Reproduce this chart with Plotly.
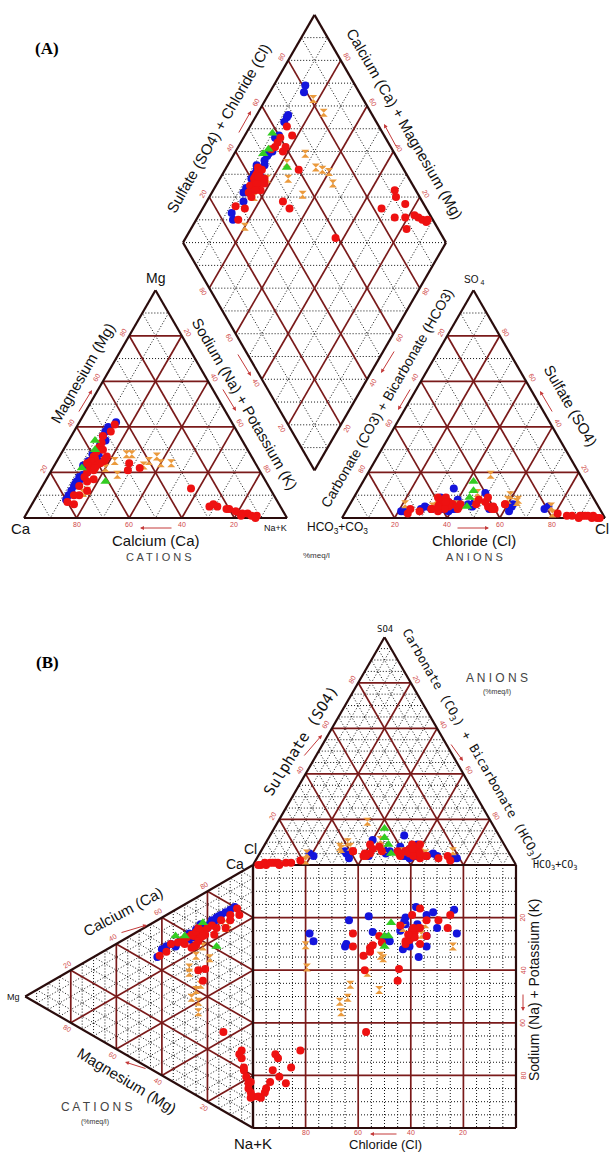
import math
import plotly.graph_objects as go

# ---------------- sample chemistry, % meq/l ----------------
# sample sets: S1 (46), S2 (28), S3 (4), S4 (14)
group = ["S1"] * 46 + ["S2"] * 28 + ["S3"] * 4 + ["S4"] * 14

ca = [62, 60, 55, 57, 48, 45, 52, 56, 58, 60, 62, 64, 66, 68, 63, 61, 59, 65, 70, 74, 78, 80, 72, 50, 48, 45, 30, 56, 64, 62, 55, 54, 76, 68,
      24, 20, 27, 14, 11, 16, 13, 25, 18, 17, 12, 21,
      60, 55, 50, 52, 70, 73, 62, 58, 55, 72, 74, 66, 63, 48, 50, 60, 52, 66, 62, 78, 70, 80, 56, 64, 58, 68, 44, 76,
      56, 67, 61, 58,
      57, 45, 36, 43, 53, 55, 70, 72, 40, 36, 32, 58, 47, 62]
mg = [24, 26, 27, 25, 38, 41, 36, 31, 29, 27, 25, 22, 20, 18, 21, 23, 24, 17, 12, 10, 6, 7, 14, 21, 24, 22, 13, 26, 24, 22, 30, 33, 10, 16,
      5, 4, 5, 2, 1, 2, 1, 6, 3, 1, 0, 4,
      28, 32, 38, 36, 18, 15, 25, 29, 32, 16, 14, 23, 25, 40, 38, 26, 34, 20, 24, 10, 17, 8, 30, 22, 27, 19, 42, 12,
      34, 22, 16, 30,
      25, 28, 27, 23, 25, 19, 12, 11, 25, 24, 24, 22, 28, 23]
nak = [14, 14, 18, 18, 14, 14, 12, 13, 13, 13, 13, 14, 14, 14, 16, 16, 17, 18, 18, 16, 16, 13, 14, 29, 28, 33, 57, 18, 12, 16, 15, 13, 14, 16,
       71, 76, 68, 84, 88, 82, 86, 69, 79, 82, 88, 75,
       12, 13, 12, 12, 12, 12, 13, 13, 13, 12, 12, 11, 12, 12, 12, 14, 14, 14, 14, 12, 13, 12, 14, 14, 15, 13, 14, 12,
       10, 11, 23, 12,
       18, 27, 37, 34, 22, 26, 18, 17, 35, 40, 44, 20, 25, 15]
hco3 = [35, 44, 40, 42, 42, 40, 55, 56, 58, 57, 59, 56, 60, 54, 57, 58, 55, 56, 59, 69, 74, 62, 64, 53, 40, 52, 41, 35, 72, 64, 59, 46, 57, 61,
        9, 7, 17, 5, 3, 12, 4, 8, 10, 6, 2, 14,
        19, 21, 32, 33, 35, 42, 40, 48, 49, 56, 64, 55, 58, 55, 58, 64, 64, 68, 76, 75, 51, 60, 46, 52, 56, 58, 60, 66,
        42, 50, 44, 47,
        19, 34, 31, 33, 43, 46, 54, 63, 44, 29, 30, 73, 18, 60]
so4 = [6, 8, 9, 7, 5, 4, 6, 7, 6, 8, 5, 9, 6, 4, 5, 7, 6, 6, 4, 3, 2, 3, 4, 5, 5, 6, 4, 6, 4, 4, 9, 6, 7, 5,
       1, 1, 2, 0, 0, 1, 1, 1, 0, 1, 0, 1,
       5, 4, 6, 5, 3, 4, 11, 5, 6, 4, 4, 6, 5, 4, 3, 4, 4, 4, 3, 3, 13, 4, 7, 8, 7, 9, 6, 5,
       16, 5, 12, 9,
       2, 19, 10, 8, 11, 7, 6, 5, 8, 8, 7, 6, 5, 8]
cl = [59, 48, 51, 51, 53, 56, 39, 37, 36, 35, 36, 35, 34, 42, 38, 35, 39, 38, 37, 28, 24, 35, 32, 42, 55, 42, 55, 59, 24, 32, 32, 48, 36, 34,
      90, 92, 81, 95, 97, 87, 95, 91, 90, 93, 98, 85,
      76, 75, 62, 62, 62, 54, 49, 47, 45, 40, 32, 39, 37, 41, 39, 32, 32, 28, 21, 22, 36, 36, 47, 40, 37, 33, 34, 29,
      42, 45, 44, 44,
      79, 47, 59, 59, 46, 47, 40, 32, 48, 63, 63, 21, 77, 32]

ticks = [20, 40, 60, 80]

# ---------------- styling ----------------
STYLE = {
    "S2": dict(symbol="circle", color="#1414dc", size=8),
    "S4": dict(symbol="hourglass", color="#eb9a3c", size=8),
    "S1": dict(symbol="circle", color="#ee1111", size=8),
    "S3": dict(symbol="triangle-up", color="#33cc22", size=9),
}
DRAW_ORDER = ["S2", "S4", "S1", "S3"]
MAJOR = "#7a1a1a"
EDGE = "#2a0c0c"
DOT = "#111111"
TICK = "#d04848"
SANS = "Liberation Sans, Arial, sans-serif"
MONO = "DejaVu Sans Mono, Liberation Mono, monospace"
SERIF = "Liberation Serif, Times New Roman, serif"

# ---------------- diagram geometry (page units) ----------------
H = math.sqrt(3) / 2
SIDE = 263.0
BY = 518.0
CAT_CA = (24.0, BY)
CAT_NK = (CAT_CA[0] + SIDE, BY)
CAT_MG = (CAT_CA[0] + SIDE / 2, BY - SIDE * H)
GAP = 55.0
AN_HC = (CAT_NK[0] + GAP, BY)
AN_CL = (AN_HC[0] + SIDE, BY)
AN_S4 = (AN_HC[0] + SIDE / 2, BY - SIDE * H)
DM_B = ((CAT_NK[0] + AN_HC[0]) / 2, BY - GAP * H)
DM_R = (DM_B[0] + SIDE / 2, DM_B[1] - SIDE * H)
DM_L = (DM_B[0] - SIDE / 2, DM_B[1] - SIDE * H)
DM_T = (DM_B[0], DM_B[1] - 2 * SIDE * H)

SX, SY = 253.0, 865.0
D_CL = (SX, SY)
D_HC = (SX + SIDE, SY)
D_S4 = (SX + SIDE / 2, SY - SIDE * H)
D_CA = (SX, SY)
D_NK = (SX, SY + SIDE)
D_MG = (SX - SIDE * H, SY + SIDE / 2)


def lerp(a, b, f):
    return (a[0] + (b[0] - a[0]) * f, a[1] + (b[1] - a[1]) * f)


def bary(w, verts):
    t = float(sum(w))
    return (sum(wi * v[0] for wi, v in zip(w, verts)) / t,
            sum(wi * v[1] for wi, v in zip(w, verts)) / t)


def diamond(s, t):
    return (DM_B[0] + s * (DM_R[0] - DM_B[0]) + t * (DM_L[0] - DM_B[0]),
            DM_B[1] + s * (DM_R[1] - DM_B[1]) + t * (DM_L[1] - DM_B[1]))


# ---------------- grid segments ----------------
minor, major, edges = [], [], []


def tri_grid(V, fracs, bucket):
    for f in fracs:
        for i in range(3):
            j, k = (i + 1) % 3, (i + 2) % 3
            bucket.append((lerp(V[j], V[i], f), lerp(V[k], V[i], f)))


def outline(pts):
    for i in range(len(pts)):
        edges.append((pts[i], pts[(i + 1) % len(pts)]))


p_minor = [0.1, 0.3, 0.5, 0.7, 0.9]
p_major = [0.2, 0.4, 0.6, 0.8]
d_minor = [i / 20 for i in range(1, 20) if i % 4 != 0]

for V in ([CAT_CA, CAT_NK, CAT_MG], [AN_HC, AN_CL, AN_S4]):
    tri_grid(V, p_minor, minor)
    tri_grid(V, p_major, major)
    outline(V)

# diamond
for f in p_minor + p_major:
    bucket = major if f in p_major else minor
    bucket.append((diamond(f, 0), diamond(f, 1)))
    bucket.append((diamond(0, f), diamond(1, f)))
for i in range(1, 20):
    c = i / 10
    y = DM_B[1] - c * SIDE * H
    hw = SIDE / 2 * (c if c <= 1 else 2 - c)
    minor.append(((DM_B[0] - hw, y), (DM_B[0] + hw, y)))
outline([DM_B, DM_R, DM_T, DM_L])

# Durov triangles
for V in ([D_CL, D_HC, D_S4], [D_CA, D_NK, D_MG]):
    tri_grid(V, d_minor, minor)
    tri_grid(V, p_major, major)
    outline(V)

# Durov square
for f in d_minor + p_major:
    bucket = major if f in p_major else minor
    bucket.append(((SX + f * SIDE, SY), (SX + f * SIDE, SY + SIDE)))
    bucket.append(((SX, SY + f * SIDE), (SX + SIDE, SY + f * SIDE)))
outline([(SX, SY), (SX + SIDE, SY), (SX + SIDE, SY + SIDE), (SX, SY + SIDE)])


def seg_xy(segs):
    xs, ys = [], []
    for a, b in segs:
        xs += [a[0], b[0], None]
        ys += [a[1], b[1], None]
    return xs, ys


fig = go.Figure()
for segs, col, w, dash in ((minor, DOT, 1, "1px,2px"), (major, MAJOR, 1.7, "solid"), (edges, EDGE, 2.2, "solid")):
    xs, ys = seg_xy(segs)
    fig.add_trace(go.Scatter(x=xs, y=ys, mode="lines", hoverinfo="skip",
                             line=dict(color=col, width=w, dash=dash)))

# ---------------- sample positions ----------------
for g in DRAW_ORDER:
    idx = [i for i, k in enumerate(group) if k == g]
    xs, ys = [], []
    for i in idx:
        pts = []
        pts.append(bary([ca[i], nak[i], mg[i]], [CAT_CA, CAT_NK, CAT_MG]))
        pts.append(bary([hco3[i], cl[i], so4[i]], [AN_HC, AN_CL, AN_S4]))
        pts.append(diamond((so4[i] + cl[i]) / 100, (ca[i] + mg[i]) / 100))
        top = bary([cl[i], hco3[i], so4[i]], [D_CL, D_HC, D_S4])
        left = bary([ca[i], nak[i], mg[i]], [D_CA, D_NK, D_MG])
        pts += [top, left, (top[0], left[1])]
        for p in pts:
            xs.append(p[0]); ys.append(p[1])
    st = STYLE[g]
    fig.add_trace(go.Scatter(x=xs, y=ys, mode="markers", name=g,
                             marker=dict(symbol=st["symbol"], color=st["color"], size=st["size"],
                                         line=dict(width=0))))

# ---------------- text ----------------
ann = []


def txt(s, x, y, size=14, angle=0, color="#111111", family=SANS, xanchor="center"):
    ann.append(dict(text=s, x=x, y=y, xref="x", yref="y", showarrow=False, textangle=angle,
                    font=dict(size=size, color=color, family=family),
                    xanchor=xanchor, yanchor="middle"))


def arrow(x0, y0, x1, y1):
    ann.append(dict(text="", x=x1, y=y1, ax=x0, ay=y0, xref="x", yref="y", axref="x", ayref="y",
                    showarrow=True, arrowhead=2, arrowsize=0.8, arrowwidth=1, arrowcolor="#c43a3a"))


def edge_ticks(A, B, inside, d=7, values=ticks, angle=None):
    dx, dy = B[0] - A[0], B[1] - A[1]
    L = math.hypot(dx, dy)
    nx, ny = -dy / L, dx / L
    mx, my = (A[0] + B[0]) / 2, (A[1] + B[1]) / 2
    if (inside[0] - mx) * nx + (inside[1] - my) * ny > 0:
        nx, ny = -nx, -ny
    if angle is None:
        angle = math.degrees(math.atan2(dy, dx))
        if angle > 90:
            angle -= 180
        if angle < -90:
            angle += 180
    for v in values:
        p = lerp(A, B, v / 100)
        txt(str(v), p[0] + nx * d, p[1] + ny * d, size=7, angle=angle, color=TICK)


cat_c = bary([1, 1, 1], [CAT_CA, CAT_NK, CAT_MG])
an_c = bary([1, 1, 1], [AN_HC, AN_CL, AN_S4])
dm_c = ((DM_L[0] + DM_R[0]) / 2, DM_L[1])

# Piper ticks
edge_ticks(CAT_NK, CAT_CA, cat_c, d=6, angle=0)          # Ca
edge_ticks(CAT_CA, CAT_MG, cat_c)                        # Mg
edge_ticks(CAT_MG, CAT_NK, cat_c)                        # Na+K
edge_ticks(AN_HC, AN_CL, an_c, d=6, angle=0)             # Cl
edge_ticks(AN_S4, AN_HC, an_c)                           # HCO3
edge_ticks(AN_CL, AN_S4, an_c)                           # SO4
edge_ticks(DM_L, DM_T, dm_c)                             # SO4+Cl
edge_ticks(DM_R, DM_T, dm_c)                             # Ca+Mg
edge_ticks(DM_B, DM_L, dm_c, values=[80, 60, 40, 20])    # Na+K
edge_ticks(DM_B, DM_R, dm_c, values=[80, 60, 40, 20])    # HCO3

# Durov ticks
dt_c = bary([1, 1, 1], [D_CL, D_HC, D_S4])
dl_c = bary([1, 1, 1], [D_CA, D_NK, D_MG])
edge_ticks(D_CL, D_S4, dt_c)                             # SO4
edge_ticks(D_S4, D_HC, dt_c)                             # HCO3
edge_ticks(D_MG, D_CA, dl_c)                             # Ca
edge_ticks(D_NK, D_MG, dl_c)                             # Mg
for v in ticks:
    txt(str(v), SX + (100 - v) / 100 * SIDE, SY + SIDE + 4, size=7, color=TICK)
    txt(str(v), SX + SIDE + 7, SY + v / 100 * SIDE, size=7, angle=-90, color=TICK)

# Piper labels
txt("<b>(A)</b>", 47, 48, size=17, family=SERIF, color="#000")
txt("Mg", CAT_MG[0], CAT_MG[1] - 12, size=14)
txt("Ca", 21, 528, size=15)
txt("Na+K", 275, 528, size=9)
txt("Calcium (Ca)", 156, 540, size=15)
arrow(173, 528, 140, 528)
txt("C A T I O N S", 159, 557, size=11, color="#444")
txt("%meq/l", 316, 555, size=8, color="#333")
txt("HCO<sub>3</sub>+CO<sub>3</sub>", 337, 528, size=12)
txt("Chloride (Cl)", 474, 540, size=15)
arrow(456, 528, 489, 528)
txt("A N I O N S", 474, 557, size=11, color="#444")
txt("Cl", 611, 528, size=15, xanchor="right")
txt("SO<sub> 4</sub>", AN_S4[0], AN_S4[1] - 10, size=10)
txt("Magnesium (Mg)", 82, 373, size=15, angle=-60)
arrow(78, 413, 92, 390)
txt("Sodium (Na) + Potassium (K)", 245, 403, size=15, angle=60)
arrow(222, 388, 236, 411)
arrow(237, 353, 251, 376)
txt("Sulfate (SO4) + Chloride (Cl)", 218, 128, size=15, angle=-60)
arrow(238, 134, 251, 111)
txt("Calcium (Ca) + Magnesium (Mg)", 405, 123, size=15, angle=60)
arrow(397, 148, 384, 124)
txt("Carbonate (CO3) + Bicarbonate (HCO3)", 387, 398, size=14, angle=-60)
arrow(395, 350, 381, 373)
arrow(411, 388, 398, 410)
txt("Sulfate (SO4)", 571, 405, size=15, angle=60)
arrow(553, 413, 540, 391)

# Durov labels
txt("<b>(B)</b>", 47, 662, size=17, family=SERIF, color="#000")
txt("SO4", D_S4[0], D_S4[1] - 8, size=9, family=MONO)
txt("Sulphate (SO4)", 301, 741, size=15, angle=-58, family=MONO)
arrow(303, 757, 322, 735)
txt("Carbonate (CO<sub>3</sub>) + Bicarbonate (HCO<sub>3</sub>)", 472, 745, size=12.5, angle=60, family=MONO)
arrow(450, 743, 463, 761)
txt("A N I O N S", 497, 678, size=12, color="#444")
txt("(%meq/l)", 497, 692, size=7, color="#333")
txt("HCO<sub>3</sub>+CO<sub>3</sub>", 555, 865, size=10, family=MONO)
txt("Cl", 250, 849, size=14)
txt("Ca", 235, 864, size=14)
txt("Calcium (Ca)", 123, 911, size=15, angle=-28)
arrow(120, 933, 147, 925)
txt("Magnesium (Mg)", 127, 1080, size=15, angle=31)
arrow(147, 1069, 125, 1062)
txt("Mg", 13, 997, size=9)
txt("C A T I O N S", 97, 1107, size=12, color="#444")
txt("(%meq/l)", 95, 1122, size=7, color="#333")
txt("Na+K", 253, 1143, size=15)
txt("Chloride (Cl)", 385, 1144, size=13)
arrow(398, 1134, 370, 1134)
txt("Sodium (Na) + Potassium (K)", 534, 990, size=14, angle=-90)
arrow(523, 993, 523, 1011)

fig.update_layout(
    width=612, height=1152,
    margin=dict(l=0, r=0, t=0, b=0),
    paper_bgcolor="white", plot_bgcolor="white",
    showlegend=False,
    xaxis=dict(range=[0, 612], visible=False, fixedrange=True),
    yaxis=dict(range=[1152, 0], visible=False, fixedrange=True),
    annotations=ann,
)

fig.write_html("out.html")
